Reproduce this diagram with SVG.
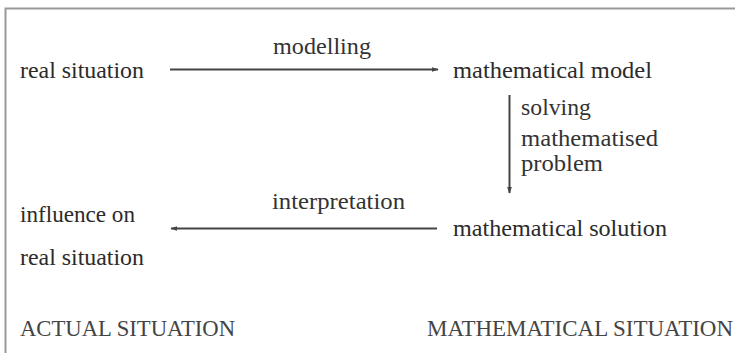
<svg xmlns="http://www.w3.org/2000/svg" width="735" height="353" viewBox="0 0 735 353">
<defs>
<style>
text{font-family:"Liberation Serif","Times New Roman",serif;font-size:24px;fill:#2b2b2b}
.lab{fill:#333}
.caps{fill:#444;font-size:23px}
.conn{stroke:#444;stroke-width:2;fill:none}
</style>
<marker id="ah" viewBox="0 0 10 10" refX="9" refY="5" markerWidth="7" markerHeight="7" markerUnits="userSpaceOnUse" orient="auto">
<path d="M0,1.5 L10,5 L0,8.5 Z" fill="#444"/>
</marker>
</defs>
<rect width="735" height="353" fill="#fff"/>
<g id="frame">
<path d="M5.5,353 V8.5 H735" stroke="#999" stroke-width="2" fill="none"/>
</g>
<g id="connectors">
<line class="conn" x1="170" y1="69.5" x2="438" y2="69.5" marker-end="url(#ah)"/>
<line class="conn" x1="509.5" y1="95" x2="509.5" y2="193" marker-end="url(#ah)"/>
<line class="conn" x1="437" y1="228.5" x2="171" y2="228.5" marker-end="url(#ah)"/>
<text class="lab" x="273" y="54" textLength="98" lengthAdjust="spacingAndGlyphs">modelling</text>
<text class="lab" x="521" y="115" textLength="70" lengthAdjust="spacingAndGlyphs">solving</text>
<text class="lab" x="521" y="146" textLength="137" lengthAdjust="spacingAndGlyphs">mathematised</text>
<text class="lab" x="521" y="171" textLength="82" lengthAdjust="spacingAndGlyphs">problem</text>
<text class="lab" x="272" y="209" textLength="133" lengthAdjust="spacingAndGlyphs">interpretation</text>
</g>
<g id="node-real">
<text x="20" y="78" textLength="124" lengthAdjust="spacingAndGlyphs">real situation</text>
</g>
<g id="node-model">
<text x="453" y="78" textLength="199" lengthAdjust="spacingAndGlyphs">mathematical model</text>
</g>
<g id="node-solution">
<text x="453" y="236" textLength="214" lengthAdjust="spacingAndGlyphs">mathematical solution</text>
</g>
<g id="node-influence">
<text x="20" y="222" textLength="115" lengthAdjust="spacingAndGlyphs">influence on</text>
<text x="20" y="265" textLength="124" lengthAdjust="spacingAndGlyphs">real situation</text>
</g>
<g id="label-actual">
<text class="caps" x="20" y="336" textLength="215" lengthAdjust="spacingAndGlyphs">ACTUAL SITUATION</text>
</g>
<g id="label-math">
<text class="caps" x="427" y="336" textLength="306" lengthAdjust="spacingAndGlyphs">MATHEMATICAL SITUATION</text>
</g>
</svg>
